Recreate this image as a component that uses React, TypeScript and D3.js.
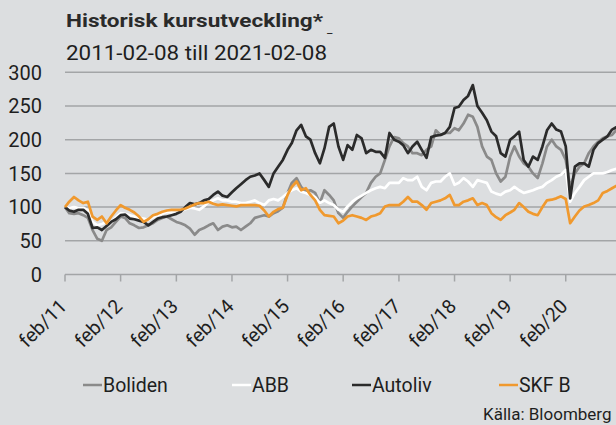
import React from "react";
import * as d3 from "d3";

const W = 616;
const H = 425;

const seriesNames = ["Boliden", "ABB", "Autoliv", "SKF B"];
const seriesColors = ["#8a8a8a", "#ffffff", "#2b2b2b", "#f0992e"];

const tickLabels = ["feb/11", "feb/12", "feb/13", "feb/14", "feb/15", "feb/16", "feb/17", "feb/18", "feb/19", "feb/20"];
const yTicks = [0, 50, 100, 150, 200, 250, 300];

// Monthly readings, 2011-02 .. 2021-02 (121 values each), indexed 100 = start
const boliden = [
  100, 91, 90, 91, 88, 84, 66, 53, 50, 66, 70, 78, 86, 84, 76, 73, 69, 70, 73, 76,
  81, 84, 86, 82, 78, 76, 73, 68, 59, 66, 69, 73, 76, 66, 71, 73, 70, 71, 66, 71,
  76, 84, 86, 88, 86, 91, 94, 99, 121, 136, 143, 130, 123, 125, 121, 106, 125, 118, 110, 91,
  84, 93, 101, 108, 115, 121, 136, 145, 150, 170, 190, 204, 202, 195, 190, 180, 180, 177, 185, 190,
  214, 207, 210, 210, 217, 214, 224, 237, 234, 219, 190, 175, 170, 150, 138, 145, 175, 190, 175, 165,
  160, 150, 143, 165, 190, 200, 190, 185, 170, 130, 150, 160, 165, 180, 190, 197, 202, 205, 207, 215,
  230,
];
const abb = [
  100, 99, 100, 99, 99, 95, 78, 73, 75, 78, 78, 85, 91, 90, 88, 86, 84, 83, 81, 85,
  88, 90, 93, 92, 91, 94, 97, 99, 98, 96, 101, 108, 110, 113, 110, 110, 108, 108, 106, 106,
  108, 110, 106, 103, 110, 112, 110, 115, 121, 125, 128, 123, 121, 118, 115, 106, 110, 106, 103, 96,
  93, 101, 108, 113, 117, 121, 125, 128, 130, 128, 136, 136, 136, 143, 140, 140, 145, 130, 125, 136,
  138, 138, 145, 150, 133, 136, 143, 138, 130, 140, 138, 136, 123, 120, 118, 123, 125, 130, 125, 121,
  123, 125, 128, 130, 136, 140, 145, 148, 155, 108, 121, 130, 140, 145, 150, 150, 150, 152, 155, 157,
  158,
];
const autoliv = [
  100, 95, 93, 96, 96, 90, 69, 70, 66, 72, 78, 82, 88, 89, 83, 82, 80, 78, 73, 78,
  83, 85, 86, 88, 90, 93, 100, 106, 104, 106, 110, 112, 118, 123, 117, 115, 122, 128, 134, 140,
  145, 147, 150, 140, 130, 150, 160, 170, 185, 195, 214, 222, 205, 200, 180, 165, 187, 219, 224, 190,
  170, 192, 185, 207, 202, 180, 185, 182, 182, 173, 210, 200, 197, 192, 180, 190, 197, 185, 173, 204,
  206, 207, 210, 219, 247, 249, 259, 265, 281, 250, 240, 229, 212, 205, 180, 175, 200, 205, 212, 170,
  160, 175, 170, 190, 214, 224, 215, 212, 190, 113, 160, 165, 165, 160, 185, 195, 200, 205, 215, 219,
  225,
];
const skf = [
  100, 108, 115, 110, 106, 108, 86, 81, 86, 76, 86, 95, 103, 99, 96, 92, 86, 78, 82, 88,
  90, 93, 95, 96, 96, 96, 98, 101, 104, 106, 106, 108, 105, 103, 104, 103, 102, 101, 103, 103,
  103, 103, 102, 95, 86, 93, 97, 99, 118, 130, 138, 125, 128, 118, 110, 96, 88, 87, 86, 76,
  80, 86, 88, 86, 84, 81, 86, 88, 91, 101, 103, 103, 103, 108, 115, 108, 108, 103, 96, 106,
  108, 110, 113, 118, 103, 103, 108, 110, 113, 103, 106, 103, 91, 85, 81, 88, 92, 96, 106, 100,
  93, 90, 88, 100, 110, 111, 113, 116, 112, 76, 86, 95, 101, 103, 106, 110, 121, 124, 128, 132,
  136,
];

const seriesValues = [boliden, abb, autoliv, skf];

const startDate = new Date(2011, 1, 8);
const endDate = new Date(2021, 1, 8);
const dates = boliden.map((_, i) => d3.timeMonth.offset(startDate, i));
const tickDates = tickLabels.map((_, i) => new Date(2011 + i, 1, 8));

const FONT = "Roboto, 'DejaVu Sans', sans-serif";

export default function App() {
  const x = d3.scaleTime().domain([startDate, endDate]).range([65, 621.5]);
  const y = d3.scaleLinear().domain([0, 300]).range([274.5, 72.3]);
  const line = d3
    .line<number>()
    .x((_, i) => x(dates[i]))
    .y((v) => y(v));

  const legendX = [83, 232, 352, 499];

  return (
    <svg
      width={W}
      height={H}
      style={{ position: "absolute", left: 0, top: 0, background: "#dcdee0" }}
      fontFamily={FONT}
    >
      <rect x={0} y={0} width={W} height={H} fill="#dcdee0" />
      <text x={66} y={27} fontSize={17.5} fontWeight="bold" fill="#2a2a2a" textLength={257} lengthAdjust="spacingAndGlyphs">
        Historisk kursutveckling*
      </text>
      <text x={327} y={33} fontSize={12} fill="#2a2a2a">_</text>
      <text x={66} y={59.5} fontSize={20.5} fill="#1e1e1e" textLength={261} lengthAdjust="spacingAndGlyphs">
        2011-02-08 till 2021-02-08
      </text>

      {yTicks.map((t) => (
        <g key={t}>
          <line x1={65} x2={W} y1={y(t)} y2={y(t)} stroke="#a3a5a7" strokeWidth={1.5} />
          <text x={42} y={y(t)} dy="0.36em" textAnchor="end" fontSize={20} fill="#1e1e1e">
            {t}
          </text>
        </g>
      ))}

      {tickDates.map((d, i) => (
        <g key={i}>
          <line x1={x(d)} x2={x(d)} y1={y(0)} y2={y(0) + 7} stroke="#a3a5a7" strokeWidth={1.5} />
          <text
            transform={`translate(${x(d) + 3},${y(0) + 33}) rotate(-45)`}
            textAnchor="end"
            fontSize={19.5}
            fill="#1e1e1e"
          >
            {tickLabels[i]}
          </text>
        </g>
      ))}

      {seriesValues.map((vals, si) => (
        <path
          key={si}
          d={line(vals) || ""}
          fill="none"
          stroke={seriesColors[si]}
          strokeWidth={2.7}
          strokeLinejoin="round"
        />
      ))}

      {seriesNames.map((n, i) => (
        <g key={n}>
          <line x1={legendX[i]} x2={legendX[i] + 19} y1={385} y2={385} stroke={seriesColors[i]} strokeWidth={2.5} />
          <text x={legendX[i] + 20} y={391.5} fontSize={19.5} fill="#1e1e1e">
            {n}
          </text>
        </g>
      ))}

      <text x={483} y={419.5} fontSize={17} fill="#1e1e1e">
        Källa: Bloomberg
      </text>
    </svg>
  );
}
